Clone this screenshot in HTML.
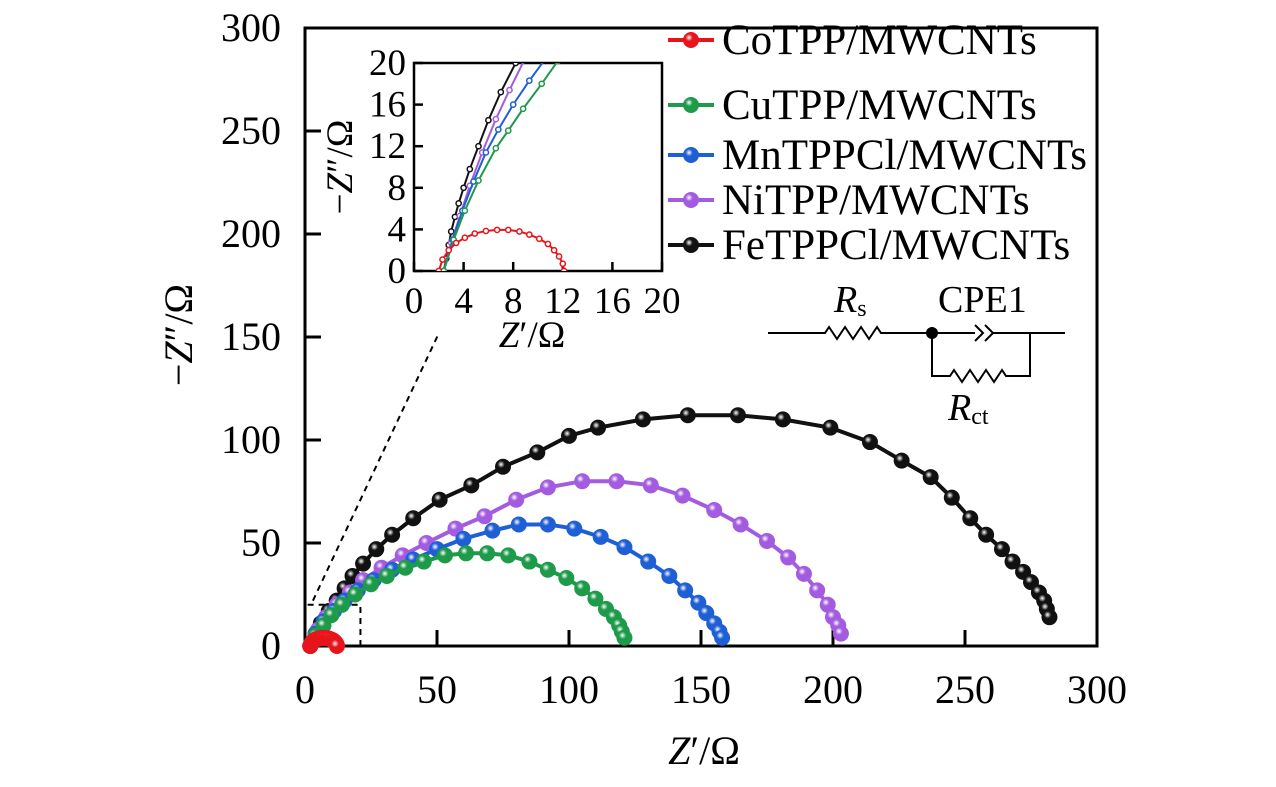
<!DOCTYPE html>
<html><head><meta charset="utf-8"><style>
html,body{margin:0;padding:0;background:#fff;}
svg{display:block;font-family:"Liberation Serif",serif;}
</style></head><body>
<svg id="c" width="1276" height="787" viewBox="0 0 1276 787">
<defs>
<clipPath id="insetClip"><rect x="414" y="63" width="248" height="208"/></clipPath>
</defs>
</svg>
<script>
// ---- data ----
const seriesNames = ["CoTPP/MWCNTs","CuTPP/MWCNTs","MnTPPCl/MWCNTs","NiTPP/MWCNTs","FeTPPCl/MWCNTs"];
const seriesColors = ["#e8141b","#1e9a4b","#1f5fd6","#a35ce0","#111111"];
const coX = [2,2.3,2.8,3.4,4.1,4.9,5.8,6.7,7.6,8.5,9.3,10.1,10.8,11.3,11.7,12.0,12.1];
const coY = [0,1.1,2,2.7,3.2,3.6,3.85,3.95,3.95,3.8,3.5,3.1,2.6,2,1.4,0.7,0];
const cuX = [2,4,7,10,14,19,25,31,38,45,53,61,69,77,85,92,99,105,110,114,117,119,120,121];
const cuY = [0,5,10,15,20,25,30,34,38,41,44,45,45,44,41,37,33,28,23,18,14,10,7,4];
const mnX = [2,4,7,11,15,20,26,33,41,50,60,71,81,92,102,112,121,130,138,144,149,152,155,157,158];
const mnY = [0,6,12,17,22,27,32,37,42,47,52,56,59,59,57,53,48,41,34,27,21,16,11,7,4];
const niX = [2,5,8,12,17,22,29,37,46,57,68,80,92,105,118,131,143,155,165,175,183,189,194,198,200,202,203];
const niY = [0,8,14,20,26,32,38,44,50,57,63,71,77,80,80,78,73,66,59,51,43,35,27,20,14,10,6];
const feX = [2,4,6,9,12,15,18,22,27,33,41,51,63,75,88,100,111,128,145,164,181,199,214,226,237,245,252,258,264,268,272,275,278,280,281,282];
const feY = [0,6,11,17,22,28,34,40,47,54,62,71,78,87,94,102,106,110,112,112,110,106,99,90,82,72,62,54,47,41,36,31,26,22,18,14];
const inCoX = coX, inCoY = coY;
const inCuX = [2.4,3.2,4.1,5.2,6.6,7.6,8.8,10.3,11.6];
const inCuY = [0,3,5.8,8.7,11.8,13.5,15.6,18,20.2];
const inMnX = [2.4,3.1,3.9,4.8,5.8,6.8,8.0,9.3,10.6];
const inMnY = [0,3,5.8,8.6,11.4,13.6,16,18.3,20.4];
const inNiX = [2.4,3,3.7,4.5,5.5,6.6,7.7,8.9];
const inNiY = [0,2.7,5.3,8.2,11.4,14.6,17.4,20.3];
const inFeX = [2.4,2.6,2.8,3.0,3.3,3.6,4.0,4.5,5.2,6.0,7.0,8.2];
const inFeY = [0,1.2,2.5,3.8,5.2,6.5,8.0,9.8,12.0,14.5,17.2,20];
const mainTicks = [0,50,100,150,200,250,300];
const insetTicks = [0,4,8,12,16,20];

const X0=305,X1=1097,Y0=646,Y1=28;
const xs=v=>X0+(v/300)*(X1-X0);
const ys=v=>Y0-(v/300)*(Y0-Y1);
const IX0=414,IX1=662,IY0=271,IY1=63;
const ixs=v=>IX0+(v/20)*(IX1-IX0);
const iys=v=>IY0-(v/20)*(IY0-IY1);

const svg=document.getElementById('c');
const NS='http://www.w3.org/2000/svg';
function mk(tag,attrs,parent){const e=document.createElementNS(NS,tag);for(const k in attrs)e.setAttribute(k,attrs[k]);(parent||svg).appendChild(e);return e;}

const defs=svg.querySelector('defs');
seriesColors.forEach((c,i)=>{
  const g=mk('radialGradient',{id:'g'+i,cx:'0.38',cy:'0.35',r:'0.65'},defs);
  mk('stop',{offset:'0','stop-color':'#ffffff'},g);
  mk('stop',{offset:'0.35','stop-color':c},g);
  mk('stop',{offset:'1','stop-color':c},g);
});

const frame=mk('rect',{x:X0,y:Y1,width:X1-X0,height:Y0-Y1,fill:'none',stroke:'#000','stroke-width':3});


mainTicks.forEach(t=>{
  const tx=mk('line',{x1:xs(t),x2:xs(t),y1:Y0,y2:Y0-16,stroke:'#000','stroke-width':3});
  
  
  const lx=mk('text',{x:xs(t),y:Y0+57,'text-anchor':'middle','font-size':40});
  lx.textContent=t;
  
  
  const ty=mk('line',{x1:X0,x2:X0+16,y1:ys(t),y2:ys(t),stroke:'#000','stroke-width':3});
  
  
  const ly=mk('text',{x:X0-24,y:ys(t)+13,'text-anchor':'end','font-size':40});
  ly.textContent=t;
  
  
});
const xt=mk('text',{x:704,y:764,'text-anchor':'middle','font-size':40});
xt.innerHTML='<tspan font-style="italic">Z</tspan>′/Ω';


const yt=mk('text',{x:0,y:0,'text-anchor':'middle','font-size':40,transform:'translate(192,335) rotate(-90)'});
yt.innerHTML='−<tspan font-style="italic">Z</tspan>″/Ω';



const zb=mk('path',{d:`M${xs(1)} ${ys(20)} H${xs(21)} V${Y0}`,fill:'none',stroke:'#000','stroke-width':2,'stroke-dasharray':'6,5'});


const zl=mk('line',{x1:xs(3),y1:ys(22),x2:438,y2:335,stroke:'#000','stroke-width':2,'stroke-dasharray':'6,5'});



const mainData=[[coX,coY],[cuX,cuY],[mnX,mnY],[niX,niY],[feX,feY]];
const order=[4,3,2,1,0];
order.forEach(i=>{
  const [X,Y]=mainData[i];
  const g=mk('g',{});
  
  
  mk('polyline',{points:X.map((x,k)=>xs(x)+','+ys(Y[k])).join(' '),fill:'none',stroke:seriesColors[i],'stroke-width':4},g);
  X.forEach((x,k)=>{
    const p=mk('circle',{cx:xs(x),cy:ys(Y[k]),r:8,fill:'url(#g'+i+')'},g);
    
    
  });
});

const ib=mk('rect',{x:IX0,y:IY1,width:IX1-IX0,height:IY0-IY1,fill:'#fff',stroke:'#000','stroke-width':2.5});


insetTicks.forEach(t=>{
  const a=mk('line',{x1:ixs(t),x2:ixs(t),y1:IY0,y2:IY0-9,stroke:'#000','stroke-width':2.5});
  
  
  const b=mk('line',{x1:IX0,x2:IX0+9,y1:iys(t),y2:iys(t),stroke:'#000','stroke-width':2.5});
  
  
  const lx=mk('text',{x:ixs(t),y:IY0+42,'text-anchor':'middle','font-size':37});
  lx.textContent=t;
  
  
  const ly=mk('text',{x:IX0-8,y:iys(t)+12,'text-anchor':'end','font-size':37});
  ly.textContent=t;
  
  
});
const ixt=mk('text',{x:532,y:347,'text-anchor':'middle','font-size':37});
ixt.innerHTML='<tspan font-style="italic">Z</tspan>′/Ω';


const iyt=mk('text',{x:0,y:0,'text-anchor':'middle','font-size':37,transform:'translate(352,167) rotate(-90)'});
iyt.innerHTML='−<tspan font-style="italic">Z</tspan>″/Ω';


const insetData=[[inCoX,inCoY],[inCuX,inCuY],[inMnX,inMnY],[inNiX,inNiY],[inFeX,inFeY]];
const ig=mk('g',{'clip-path':'url(#insetClip)'});


order.forEach(i=>{
  const [X,Y]=insetData[i];
  mk('polyline',{points:X.map((x,k)=>ixs(x)+','+iys(Y[k])).join(' '),fill:'none',stroke:seriesColors[i],'stroke-width':2},ig);
  X.forEach((x,k)=>{
    const p=mk('circle',{cx:ixs(x),cy:iys(Y[k]),r:2.6,fill:'#fff',stroke:seriesColors[i],'stroke-width':1.5},ig);
    
    
  });
});

const legY=[40,105,155,200,245];
seriesNames.forEach((n,i)=>{
  const g=mk('g',{});
  
  
  mk('line',{x1:668,x2:714,y1:legY[i],y2:legY[i],stroke:seriesColors[i],'stroke-width':4},g);
  mk('circle',{cx:691,cy:legY[i],r:8,fill:'url(#g'+i+')'},g);
  const t=mk('text',{x:722,y:legY[i]+14,'font-size':43},g);
  t.textContent=n;
});
</script>
<svg width="1276" height="787" style="position:absolute;left:0;top:0;font-family:'Liberation Serif',serif">
<g fill="none" stroke="#000" stroke-width="2">
<path d="M768 333 H825 l4 -6 l8 12 l8 -12 l8 12 l8 -12 l8 12 l8 -12 l4 6 H975"/>
<path d="M975 325 l8 8 l-8 8 M985 325 l8 8 l-8 8"/>
<path d="M993 333 H1065"/>
<path d="M932 333 V376 H950 l4 -6 l8 12 l8 -12 l8 12 l8 -12 l8 12 l8 -12 l4 6 H1030 V333"/>
</g>
<circle cx="932" cy="333" r="6" fill="#000"/>
<text x="834" y="312" font-size="38" font-style="italic">R<tspan font-size="24" font-style="normal" dy="4">s</tspan></text>
<text x="938" y="312" font-size="38">CPE1</text>
<text x="948" y="420" font-size="38" font-style="italic">R<tspan font-size="24" font-style="normal" dy="4">ct</tspan></text>
</svg>
</body></html>
